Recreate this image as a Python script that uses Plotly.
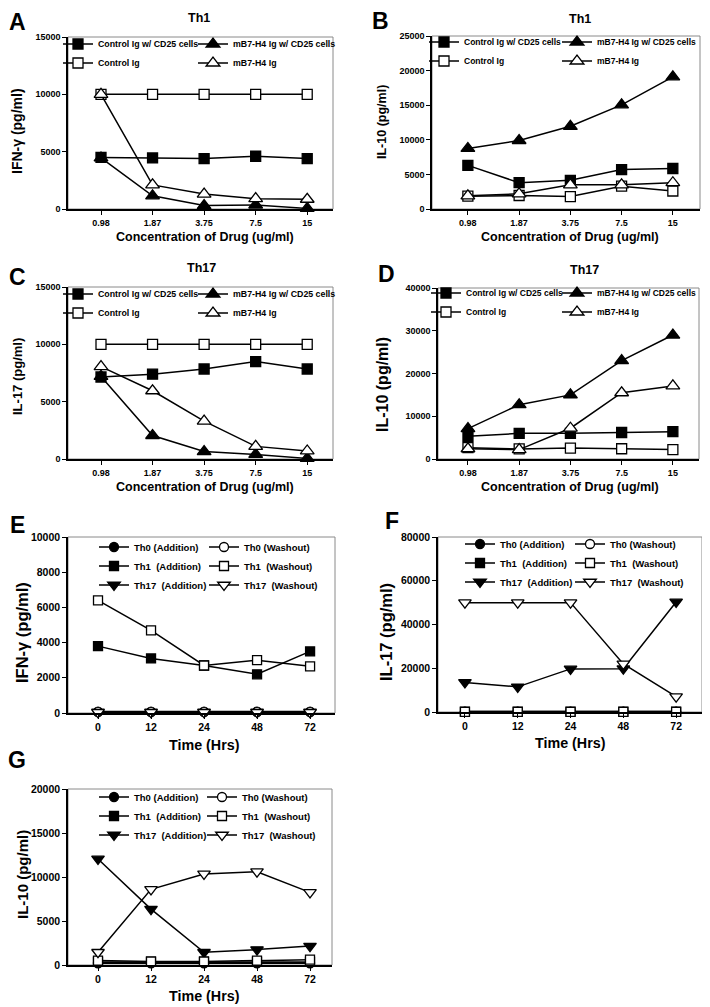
import plotly.graph_objects as go

W, H = 710, 1007
OFF = 8  # default page body margin of the html page
FONT = "Liberation Sans, Arial, sans-serif"

# ---------------- data ----------------
conc = ["0.98", "1.87", "3.75", "7.5", "15"]
hrs = ["0", "12", "24", "48", "72"]

conc_names = ["Control Ig w/ CD25 cells", "Control Ig", "mB7-H4 Ig w/ CD25 cells", "mB7-H4 Ig"]
time_names = ["Th0 (Addition)", "Th1\u00a0 (Addition)", "Th17\u00a0 (Addition)",
              "Th0 (Washout)", "Th1\u00a0 (Washout)", "Th17\u00a0 (Washout)"]

# A: Th1, IFN-gamma
a_ctrl_cd25 = [4500, 4450, 4400, 4600, 4400]
a_ctrl = [10000, 10000, 10000, 10000, 10000]
a_mb7_cd25 = [4450, 1150, 300, 350, 50]
a_mb7 = [10000, 2100, 1300, 900, 850]

# B: Th1, IL-10
b_ctrl_cd25 = [6300, 3800, 4150, 5700, 5850]
b_ctrl = [1850, 1950, 1800, 3300, 2600]
b_mb7_cd25 = [8750, 9900, 11950, 15050, 19100]
b_mb7 = [1900, 2200, 3500, 3500, 3800]

# C: Th17, IL-17
c_ctrl_cd25 = [7150, 7400, 7850, 8500, 7850]
c_ctrl = [10000, 10000, 10000, 10000, 10000]
c_mb7_cd25 = [7200, 2050, 650, 400, 50]
c_mb7 = [8050, 5950, 3300, 1100, 700]

# D: Th17, IL-10
d_ctrl_cd25 = [5300, 6000, 6000, 6200, 6400]
d_ctrl = [2650, 2350, 2550, 2400, 2200]
d_mb7_cd25 = [7100, 12700, 15000, 23000, 29000]
d_mb7 = [2400, 2200, 7200, 15500, 17100]

# E: IFN-gamma time course
e_th0_add = [80, 80, 80, 80, 80]
e_th1_add = [3800, 3100, 2700, 2200, 3500]
e_th17_add = [60, 60, 60, 60, 60]
e_th0_wash = [50, 50, 50, 50, 50]
e_th1_wash = [6400, 4700, 2700, 3000, 2650]
e_th17_wash = [40, 40, 40, 40, 40]

# F: IL-17 time course
f_th0_add = [200, 200, 200, 200, 200]
f_th1_add = [200, 200, 200, 200, 200]
f_th17_add = [13500, 11500, 19700, 19800, 50300]
f_th0_wash = [100, 100, 100, 100, 100]
f_th1_wash = [100, 100, 100, 100, 100]
f_th17_wash = [50000, 50000, 50000, 22000, 7000]

# G: IL-10 time course
g_th0_add = [250, 250, 250, 250, 250]
g_th1_add = [350, 350, 350, 350, 350]
g_th17_add = [12050, 6350, 1450, 1750, 2150]
g_th0_wash = [200, 200, 200, 200, 200]
g_th1_wash = [500, 400, 400, 500, 600]
g_th17_wash = [1450, 8600, 10350, 10600, 8250]

# ---------------- styles ----------------
conc_styles = [("square", "black"), ("square", "white"), ("triangle-up", "black"), ("triangle-up", "white")]
time_styles = [("circle", "black"), ("square", "black"), ("triangle-down", "black"),
               ("circle", "white"), ("square", "white"), ("triangle-down", "white")]

panels = [
    dict(letter="A", title="Th1", ytitle="IFN-\u03b3 (pg/ml)", cats=conc, names=conc_names, styles=conc_styles,
         series=[a_ctrl_cd25, a_ctrl, a_mb7_cd25, a_mb7], xd=(68, 333), yd=(37, 209), xr=[-0.64, 4.5],
         ymax=15000, dtick=5000, letter_pos=(17, 22), title_pos=(199, 18), yt_pos=(17, 131), yt_size=14,
         xt_pos=(205, 237), leg1=(58, 29.5), leg2=(193, 29.5), leg_size=8.8, big=False),
    dict(letter="B", title="Th1", ytitle="IL-10 (pg/ml)", cats=conc, names=conc_names, styles=conc_styles,
         series=[b_ctrl_cd25, b_ctrl, b_mb7_cd25, b_mb7], xd=(432, 700), yd=(36, 209), xr=[-0.70, 4.53],
         ymax=25000, dtick=5000, letter_pos=(380, 21), title_pos=(580, 19), yt_pos=(382, 122), yt_size=12.5,
         xt_pos=(570, 237), leg1=(424, 27.5), leg2=(557, 27.5), leg_size=8.5, big=False),
    dict(letter="C", title="Th17", ytitle="IL-17 (pg/ml)", cats=conc, names=conc_names, styles=conc_styles,
         series=[c_ctrl_cd25, c_ctrl, c_mb7_cd25, c_mb7], xd=(68, 333), yd=(287, 459), xr=[-0.64, 4.5],
         ymax=15000, dtick=5000, letter_pos=(17, 277), title_pos=(201, 268), yt_pos=(17, 377), yt_size=13,
         xt_pos=(205, 487), leg1=(58, 279.5), leg2=(193, 279.5), leg_size=8.8, big=False),
    dict(letter="D", title="Th17", ytitle="IL-10 (pg/ml)", cats=conc, names=conc_names, styles=conc_styles,
         series=[d_ctrl_cd25, d_ctrl, d_mb7_cd25, d_mb7], xd=(438, 699), yd=(288, 459), xr=[-0.585, 4.51],
         ymax=40000, dtick=10000, letter_pos=(387, 274), title_pos=(584, 270), yt_pos=(382, 385), yt_size=16,
         xt_pos=(570, 487), leg1=(426, 278.5), leg2=(557, 278.5), leg_size=8.5, big=False),
    dict(letter="E", title="", ytitle="IFN-\u03b3 (pg/ml)", cats=hrs, names=time_names, styles=time_styles,
         series=[e_th0_add, e_th1_add, e_th17_add, e_th0_wash, e_th1_wash, e_th17_wash],
         xd=(68, 335), yd=(537, 713), xr=[-0.566, 4.47],
         ymax=10000, dtick=2000, letter_pos=(17, 525), title_pos=None, yt_pos=(22, 633), yt_size=16.5,
         xt_pos=(204, 745), leg1=(94, 532.5), leg2=(204, 532.5), leg_size=9.5, big=True),
    dict(letter="F", title="", ytitle="IL-17 (pg/ml)", cats=hrs, names=time_names, styles=time_styles,
         series=[f_th0_add, f_th1_add, f_th17_add, f_th0_wash, f_th1_wash, f_th17_wash],
         xd=(438, 702), yd=(537, 712), xr=[-0.51, 4.49],
         ymax=80000, dtick=20000, letter_pos=(392, 521), title_pos=None, yt_pos=(386, 632), yt_size=16.5,
         xt_pos=(570, 743), leg1=(460, 529.5), leg2=(570, 529.5), leg_size=9.5, big=True),
    dict(letter="G", title="", ytitle="IL-10 (pg/ml)", cats=hrs, names=time_names, styles=time_styles,
         series=[g_th0_add, g_th1_add, g_th17_add, g_th0_wash, g_th1_wash, g_th17_wash],
         xd=(68, 332), yd=(789, 965), xr=[-0.566, 4.415],
         ymax=20000, dtick=5000, letter_pos=(17, 760), title_pos=None, yt_pos=(22, 875), yt_size=15,
         xt_pos=(204, 996), leg1=(94, 782.5), leg2=(202, 782.5), leg_size=9.5, big=True),
]


def px(x):
    return (x - OFF) / W


def py(y):
    return 1 - (y - OFF) / H


def bold(size):
    return dict(family=FONT, size=size, color="black", weight="bold")


fig = go.Figure()
annotations = []
shapes = []
layout = {}

for i, p in enumerate(panels, start=1):
    xa = "x" if i == 1 else f"x{i}"
    ya = "y" if i == 1 else f"y{i}"
    lg1 = "legend" if i == 1 else f"legend{2 * i - 1}"
    lg2 = f"legend{2 * i}"
    n = len(p["series"])
    half = n // 2
    msize = 10 if not p["big"] else 9
    for k, (name, vals, (sym, fill)) in enumerate(zip(p["names"], p["series"], p["styles"])):
        size = msize + (2 if "triangle" in sym else 0)
        fig.add_trace(go.Scatter(
            x=p["cats"], y=vals, name=name, mode="lines+markers",
            xaxis=xa, yaxis=ya, legend=lg1 if k < half else lg2,
            line=dict(color="black", width=1.5),
            marker=dict(symbol=sym, size=size, color=fill, line=dict(color="black", width=1.3)),
            cliponaxis=False, showlegend=True,
        ))

    tick_size = 10.5 if p["big"] else 9
    layout[("xaxis" if i == 1 else f"xaxis{i}")] = dict(
        domain=[px(p["xd"][0]), px(p["xd"][1])], anchor=ya, type="category",
        categoryorder="array", categoryarray=p["cats"], range=p["xr"],
        showline=True, linecolor="black", linewidth=1.5, ticks="outside", ticklen=4,
        tickwidth=1.2, tickcolor="black", showgrid=False, zeroline=False,
        tickfont=bold(tick_size), fixedrange=True, automargin=False,
    )
    layout[("yaxis" if i == 1 else f"yaxis{i}")] = dict(
        domain=[py(p["yd"][1]), py(p["yd"][0])], anchor=xa, range=[0, p["ymax"]],
        tickmode="linear", tick0=0, dtick=p["dtick"],
        showline=True, linecolor="black", linewidth=1.5, ticks="outside", ticklen=4,
        tickwidth=1.2, tickcolor="black", showgrid=False, zeroline=False,
        tickfont=bold(tick_size), tickformat="d", fixedrange=True, automargin=False,
    )
    leg_font = bold(p["leg_size"])
    for lid, (lx, ly) in ((lg1, p["leg1"]), (lg2, p["leg2"])):
        layout[lid] = dict(x=px(lx), y=py(ly), xanchor="left", yanchor="top",
                           bgcolor="rgba(0,0,0,0)", borderwidth=0, tracegroupgap=0,
                           font=leg_font, orientation="v")

    shapes.append(dict(type="rect", xref=f"{xa} domain", yref=f"{ya} domain",
                       x0=0, x1=1, y0=0, y1=1, line=dict(color="#8a8a8a", width=1), layer="below"))

    annotations.append(dict(text=p["letter"], x=px(p["letter_pos"][0]), y=py(p["letter_pos"][1]),
                            xref="paper", yref="paper", showarrow=False, xanchor="center", yanchor="middle",
                            font=bold(23)))
    if p["title_pos"]:
        annotations.append(dict(text=p["title"], x=px(p["title_pos"][0]), y=py(p["title_pos"][1]),
                                xref="paper", yref="paper", showarrow=False, xanchor="center",
                                yanchor="middle", font=bold(12.5)))
    annotations.append(dict(text=p["ytitle"], x=px(p["yt_pos"][0]), y=py(p["yt_pos"][1]),
                            xref="paper", yref="paper", showarrow=False, xanchor="center", yanchor="middle",
                            textangle=-90, font=bold(p["yt_size"])))
    xtitle = "Time (Hrs)" if p["big"] else "Concentration of Drug (ug/ml)"
    annotations.append(dict(text=xtitle, x=px(p["xt_pos"][0]), y=py(p["xt_pos"][1]),
                            xref="paper", yref="paper", showarrow=False, xanchor="center", yanchor="middle",
                            font=bold(14.3 if p["big"] else 12.5)))

fig.update_layout(
    width=W, height=H, margin=dict(l=0, r=0, t=0, b=0, pad=0, autoexpand=False),
    paper_bgcolor="white", plot_bgcolor="white",
    font=dict(family=FONT, color="black"),
    annotations=annotations, shapes=shapes, **layout,
)

fig.write_html("out.html")
